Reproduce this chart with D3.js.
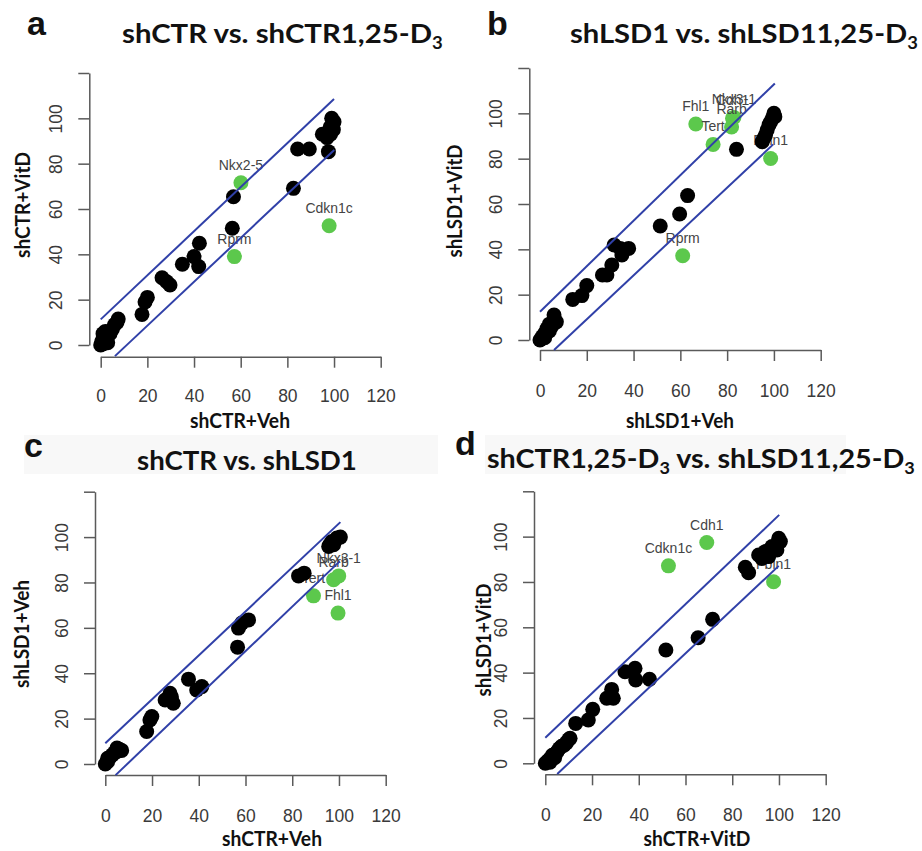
<!DOCTYPE html>
<html>
<head>
<meta charset="utf-8">
<script src="https://cdn.jsdelivr.net/npm/d3@7"></script>
<style>
  body { margin: 0; background: #fff; }
  svg { display: block; }
</style>
</head>
<body>
<svg id="chart"></svg>
<script>
// scatter values per panel: [x, y]
const blackA = [[0,0],[0.5,1.5],[1,3],[1,5],[2,2],[2,6],[3,4],[4,5],[5,7],[6,9],[7,10],[7.5,11.5],[3,1],[1,0.5],
  [17.7,13.5],[19,19],[20,21],[26.3,29.7],[28.3,27.9],[29.7,26.5],[35,35.6],[40,39],[42,34.6],[42.3,44.9],
  [56.4,51.5],[56.9,65.4],[82.6,69.1],[84.4,86.5],[89.4,86.5],[97.6,85.3],[95,93],[97,91.5],[98.3,96],
  [99,100],[100,98.5],[99.7,95],[98.5,93]];
const greenA = [[60.1,71.6],[57.3,39],[97.9,52.6]];
const genesA = ["Nkx2-5","Rprm","Cdkn1c"];

const blackB = [[0,0],[1,1.5],[2,3],[3,5],[4,4],[5,6],[6,8],[7,8],[6,11],[4,7],[2,1],
  [14,17.9],[17.9,19.6],[20,24],[26.7,28.7],[28.6,28.7],[30.7,33.1],[31.7,41.9],[34.3,40.4],[35,37.5],
  [37.9,40.4],[51.4,50.3],[59.7,55.6],[63.1,63.7],[84,84.1],[95,87.5],[95.7,89],[96.4,90.4],[97.1,92.6],
  [97.9,94.9],[98.6,96.3],[99.3,97.8],[100,100],[100.4,98.5]];
const greenB = [[66.6,95.3],[82.9,98.2],[82.3,97.8],[81.9,94],[74,86.3],[61,37.2],[98.6,80.1]];
const genesB = ["Fhl1","Nkx3-1","Cdh1","Rarb","Tert","Rprm","Fbln1"];

const blackC = [[0,0],[1,1],[1,2.5],[2,3],[3,4],[4,5],[5,5.5],[6,6.5],[7,6],[5,7],
  [17.7,14.3],[19.1,19.4],[19.9,20.9],[25.6,28.2],[27.7,31.2],[28.3,29.5],[29.1,26.8],[35.6,37.4],
  [39.1,32.6],[41.3,34.1],[56.6,51.5],[57,59.9],[58.4,62.1],[61.3,63.5],[82.7,82.9],[85.1,84.1],
  [95.6,95.9],[96.3,97],[97,98.1],[97.7,96.6],[99.1,99.6],[100.6,100],[98.5,98.5]];
const greenC = [[89.1,74.1],[99.6,66.5],[97.7,81.2],[99.9,82.9]];
const genesC = ["Tert","Fhl1","Rarb","Nkx3-1"];

const blackD = [[0,0],[1,1],[2,2],[3,3.5],[4,4],[5,5],[6,6.5],[7,7.5],[8,8],[9,9],[10,10.5],[10.6,11],[2,0.5],[4,2.5],
  [13,17.6],[18.4,19.1],[20.3,23.8],[26.3,28.7],[28.4,32.6],[29.1,28.7],[34.1,40.4],[38.4,41.9],
  [38.7,36.8],[44.6,37.1],[51.6,50],[65.4,55.4],[71.6,63.5],[85.6,86.5],[87,84.1],[91.3,91.9],
  [92.7,90.4],[94.1,93.4],[95.6,91.2],[97,95.6],[99.1,94.1],[99.9,99.3],[100.6,97.8]];
const greenD = [[69.1,97.4],[52.7,87.1],[97.7,80.1]];
const genesD = ["Cdh1","Cdkn1c","Fbln1"];

// cutoff lines: upper and lower, [[x1,y1],[x2,y2]]
const linesA = [[[0,11.3],[100,108.5]], [[6.1,-4.9],[100.1,86]]];
const linesB = [[[0,12.5],[100.4,113.2]], [[6,-4.4],[99.7,86.3]]];
const linesC = [[[0,9.1],[100.6,106.6]], [[4.4,-4.9],[100.3,89.3]]];
const linesD = [[[0,11.3],[100.1,109.6]], [[5.1,-4.7],[99.9,87.1]]];

const xTicks = [0, 20, 40, 60, 80, 100, 120];
const yTicks = [0, 20, 40, 60, 80, 100, 120];
const yTickLabels = ["0", "20", "40", "60", "80", "100", ""];

// titles: [text, subscript?]
const titleA = [["shCTR vs. shCTR1,25-D", 0], ["3", 1]];
const titleB = [["shLSD1 vs. shLSD11,25-D", 0], ["3", 1]];
const titleC = [["shCTR vs. shLSD1", 0]];
const titleD = [["shCTR1,25-D", 0], ["3", 1], [" vs. shLSD11,25-D", 0], ["3", 1]];

const xLabels = ["shCTR+Veh", "shLSD1+Veh", "shCTR+Veh", "shCTR+VitD"];
const yLabels = ["shCTR+VitD", "shLSD1+VitD", "shLSD1+Veh", "shLSD1+VitD"];
const letters = ["a", "b", "c", "d"];

var svg = d3.select("#chart").attr("width", 922).attr("height", 851);
svg.append("rect").attr("width", 922).attr("height", 851).attr("fill", "#fff");

// faint bands behind lower titles
svg.append("rect").attr("x", 24).attr("y", 435).attr("width", 414).attr("height", 39).attr("fill", "#f8f8f8");
svg.append("rect").attr("x", 485).attr("y", 435).attr("width", 361).attr("height", 39).attr("fill", "#f8f8f8");

// layout per panel
var panels = [
  { black: blackA, green: greenA, genes: genesA, lines: linesA, title: titleA,
    xr: [100.7, 380.7], yr: [345, 73], xAxisY: 356.7, yAxisX: 89.3,
    letter: [27, 35], titleX: 122, titleY: 43, titleW: 321,
    xLab: [240, 428, 100], yLab: [23, 205, 106], xTickY: 396 },
  { black: blackB, green: greenB, genes: genesB, lines: linesB, title: titleB,
    xr: [540, 820.7], yr: [340, 68], xAxisY: 350, yAxisX: 529.3,
    letter: [487, 35], titleX: 570, titleY: 43, titleW: 348,
    xLab: [680, 428, 108], yLab: [455, 201, 113], xTickY: 391 },
  { black: blackC, green: greenC, genes: genesC, lines: linesC, title: titleC,
    xr: [105.3, 385.7], yr: [764, 491.7], xAxisY: 775, yAxisX: 95,
    letter: [24, 457], titleX: 137, titleY: 470, titleW: 220,
    xLab: [272, 846, 100], yLab: [22, 634, 108], xTickY: 816 },
  { black: blackD, green: greenD, genes: genesD, lines: linesD, title: titleD,
    xr: [545.3, 825.7], yr: [763.3, 491.3], xAxisY: 774.3, yAxisX: 534,
    letter: [455, 455], titleX: 487, titleY: 468, titleW: 428,
    xLab: [697, 846, 107], yLab: [484, 640, 113], xTickY: 815 }
];

var axisColor = "#5a5a5a";
var textColor = "#3a3a3a";
var titleFont = "Lato, Open Sans, sans-serif";

panels.forEach(function(p, i) {
  var x = d3.scaleLinear().domain([0, 120]).range(p.xr);
  var y = d3.scaleLinear().domain([0, 120]).range(p.yr);
  var g = svg.append("g");

  // x axis
  var xAxis = g.append("g")
    .attr("transform", "translate(0," + p.xAxisY + ")")
    .call(d3.axisBottom(x).tickValues(xTicks).tickSize(11).tickSizeOuter(0).tickFormat(d3.format("d")));
  xAxis.selectAll(".domain, .tick line").attr("stroke", axisColor).attr("stroke-width", 1.5);
  xAxis.selectAll(".tick text")
    .attr("y", p.xTickY - p.xAxisY)
    .attr("dy", "0.35em")
    .attr("font-family", "Liberation Sans, Arial, sans-serif")
    .attr("font-size", 17.5)
    .attr("fill", textColor);

  // y axis
  var yAxis = g.append("g")
    .attr("transform", "translate(" + p.yAxisX + ",0)")
    .call(d3.axisLeft(y).tickValues(yTicks).tickSize(11).tickSizeOuter(0).tickFormat((d, k) => yTickLabels[k]));
  yAxis.selectAll(".domain, .tick line").attr("stroke", axisColor).attr("stroke-width", 1.5);
  yAxis.selectAll(".tick text")
    .attr("x", null)
    .attr("text-anchor", "middle")
    .attr("transform", "translate(-33,0) rotate(-90)")
    .attr("dy", "0.35em")
    .attr("font-family", "Liberation Sans, Arial, sans-serif")
    .attr("font-size", 17.5)
    .attr("fill", textColor);

  // green points
  g.selectAll(".green")
    .data(p.green)
    .enter()
    .append("circle")
    .attr("cx", d => x(d[0]))
    .attr("cy", d => y(d[1]))
    .attr("r", 7.5)
    .attr("fill", "#5cc84c");

  // gene labels
  g.selectAll(".gene")
    .data(p.green)
    .enter()
    .append("text")
    .attr("x", d => x(d[0]))
    .attr("y", d => y(d[1]) - 13)
    .attr("text-anchor", "middle")
    .attr("font-family", "Liberation Sans, Arial, sans-serif")
    .attr("font-size", 14)
    .attr("fill", "#444")
    .text((d, k) => p.genes[k]);

  // black points
  g.selectAll(".black")
    .data(p.black)
    .enter()
    .append("circle")
    .attr("cx", d => x(d[0]))
    .attr("cy", d => y(d[1]))
    .attr("r", 7.5)
    .attr("fill", "#000");

  // cutoff lines
  var line = d3.line().x(d => x(d[0])).y(d => y(d[1]));
  g.selectAll(".cut")
    .data(p.lines)
    .enter()
    .append("path")
    .attr("d", line)
    .attr("fill", "none")
    .attr("stroke", "#3040a8")
    .attr("stroke-width", 2);

  // axis titles
  svg.append("text")
    .attr("x", p.xLab[0]).attr("y", p.xLab[1])
    .attr("text-anchor", "middle")
    .attr("font-family", titleFont)
    .attr("font-weight", "bold")
    .attr("font-size", 21)
    .attr("textLength", p.xLab[2])
    .attr("lengthAdjust", "spacingAndGlyphs")
    .attr("fill", "#111")
    .text(xLabels[i]);

  svg.append("text")
    .attr("transform", "translate(" + p.yLab[0] + "," + p.yLab[1] + ") rotate(-90)")
    .attr("text-anchor", "middle")
    .attr("dy", "0.35em")
    .attr("font-family", titleFont)
    .attr("font-weight", "bold")
    .attr("font-size", 21)
    .attr("textLength", p.yLab[2])
    .attr("lengthAdjust", "spacingAndGlyphs")
    .attr("fill", "#111")
    .text(yLabels[i]);

  // panel letter
  svg.append("text")
    .attr("x", p.letter[0]).attr("y", p.letter[1])
    .attr("font-family", "Liberation Sans, Arial, sans-serif")
    .attr("font-weight", "bold")
    .attr("font-size", 34)
    .attr("fill", "#111")
    .text(letters[i]);

  // panel title with subscripts
  var t = svg.append("text")
    .attr("x", p.titleX).attr("y", p.titleY)
    .attr("font-family", titleFont)
    .attr("font-weight", "bold")
    .attr("font-size", 27)
    .attr("fill", "#111");
  p.title.forEach(function(seg) {
    var s = t.append("tspan").text(seg[0]);
    if (seg[1]) s.attr("font-size", 17).attr("baseline-shift", -6);
  });
  var w = t.node().getComputedTextLength();
  if (w > 0) {
    t.attr("transform", "translate(" + p.titleX + ",0) scale(" + (p.titleW / w) + ",1) translate(" + (-p.titleX) + ",0)");
  }
});
</script>
</body>
</html>
